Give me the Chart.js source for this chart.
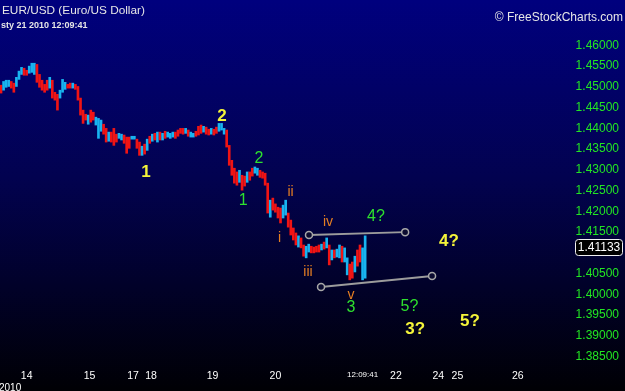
<!DOCTYPE html>
<html>
<head>
<meta charset="utf-8">
<script src="https://cdn.jsdelivr.net/npm/chart.js@4.4.1/dist/chart.umd.min.js"></script>
<style>
html,body{margin:0;padding:0;background:#000;}
canvas{display:block;}
</style>
</head>
<body>
<canvas id="c" width="625" height="391"></canvas>
<script>
// ---- data (hourly bars, EUR/USD) ----
const highs = [1.4504,1.4513,1.4516,1.4516,1.4513,1.4509,1.4523,1.4538,1.4547,1.4545,
1.4540,1.4550,1.4557,1.4557,1.4554,1.4530,1.4516,1.4506,1.4516,1.4523,
1.4516,1.4487,1.4482,1.4492,1.4518,1.4511,1.4506,1.4509,1.4509,1.4506,
1.4501,1.4473,1.4444,1.4434,1.4432,1.4444,1.4439,1.4427,1.4424,1.4420,
1.4410,1.4400,1.4391,1.4391,1.4400,1.4386,1.4388,1.4386,1.4384,1.4379,
1.4379,1.4381,1.4381,1.4374,1.4367,1.4357,1.4362,1.4374,1.4381,1.4386,
1.4388,1.4391,1.4391,1.4388,1.4393,1.4391,1.4388,1.4391,1.4391,1.4396,
1.4400,1.4400,1.4400,1.4396,1.4391,1.4388,1.4393,1.4405,1.4408,1.4405,
1.4403,1.4398,1.4400,1.4398,1.4403,1.4412,1.4412,1.4400,1.4396,1.4359,
1.4323,1.4304,1.4295,1.4299,1.4287,1.4285,1.4295,1.4295,1.4304,1.4307,
1.4304,1.4299,1.4295,1.4292,1.4268,1.4227,1.4232,1.4218,1.4210,1.4208,
1.4215,1.4227,1.4196,1.4179,1.4160,1.4148,1.4141,1.4136,1.4119,1.4116,
1.4121,1.4116,1.4114,1.4116,1.4119,1.4121,1.4126,1.4136,1.4119,1.4107,
1.4107,1.4109,1.4119,1.4116,1.4112,1.4088,1.4073,1.4078,1.4092,1.4107,
1.4119,1.4112,1.4141];
const lows = [1.4485,1.4492,1.4499,1.4501,1.4497,1.4487,1.4501,1.4518,1.4530,1.4528,
1.4528,1.4533,1.4535,1.4530,1.4511,1.4499,1.4492,1.4487,1.4492,1.4497,
1.4473,1.4468,1.4444,1.4473,1.4487,1.4494,1.4497,1.4497,1.4497,1.4494,
1.4468,1.4432,1.4412,1.4420,1.4410,1.4415,1.4420,1.4408,1.4376,1.4393,
1.4386,1.4367,1.4369,1.4367,1.4359,1.4367,1.4376,1.4372,1.4364,1.4340,
1.4352,1.4374,1.4374,1.4352,1.4335,1.4335,1.4338,1.4347,1.4364,1.4369,
1.4372,1.4367,1.4372,1.4372,1.4376,1.4379,1.4376,1.4379,1.4376,1.4381,
1.4388,1.4386,1.4388,1.4381,1.4379,1.4379,1.4381,1.4384,1.4388,1.4391,
1.4386,1.4384,1.4386,1.4384,1.4388,1.4393,1.4396,1.4386,1.4355,1.4311,
1.4287,1.4268,1.4263,1.4270,1.4251,1.4261,1.4270,1.4275,1.4285,1.4292,
1.4287,1.4282,1.4280,1.4263,1.4196,1.4186,1.4203,1.4198,1.4184,1.4172,
1.4184,1.4191,1.4162,1.4143,1.4131,1.4119,1.4114,1.4112,1.4092,1.4088,
1.4102,1.4100,1.4100,1.4102,1.4102,1.4107,1.4109,1.4112,1.4071,1.4083,
1.4088,1.4090,1.4088,1.4078,1.4078,1.4047,1.4035,1.4039,1.4054,1.4068,
1.4078,1.4035,1.4039];
// bar direction: u = up (close > open), d = down
const direction = "duuuddu" + "uuddu" + "uuddddduddduuuddudddddudd" +
  "uuudduddduuddduuddudududududuuudddduduuddduddudduuu" +
  "ddddduddudduuddddudddduu" + "ddddudduuddddudududuuduuddudduu" + "uuudu";
const lastClose = 1.41133;

// y axis tick labels
const yTicks = [1.385,1.39,1.395,1.40,1.405,1.41,1.415,1.42,1.425,1.43,1.435,1.44,1.445,1.45,1.455,1.46];

// x axis: hour slots and their day labels
const tickSlots  = [10, 34.5, 51.5, 58.5, 82.5, 107, 141, 154, 170.5, 178, 201.5];
const tickLabels = ["14","15","17","18","19","20","12:09:41","22","24","25","26"];

// Elliott wave annotations (slot, price)
const waveText  = ["1","2","1","2","ii","i","iv","4?","4?","iii","v","3","5?","3?","5?"];
const waveSlot  = [56.5,86.2,94.4,100.6,112.9,108.6,127.5,146.2,174.7,119.7,136.5,136.5,159.3,161.5,182.9];
const wavePrice = [1.4295,1.4430,1.4225,1.4327,1.4246,1.4136,1.4174,1.4187,1.4129,1.4054,1.3999,1.3967,1.3971,1.3917,1.3934];
const waveKind  = ["Y","Y","G","G","o","o","o","G","Y","o","o","G","G","Y","Y"];

// trend channel lines (slot, price)
const upperLineSlots = [120.1, 157.6];
const upperLinePrice = [1.4143, 1.4150];
const lowerLineSlots = [124.8, 168.1];
const lowerLinePrice = [1.4018, 1.4044];

// ---- build ----
const FONT = "'Liberation Sans', Arial, sans-serif";
const UP = '#18b4f0', DOWN = '#f01414';
const barData = highs.map((h, i) => ({x: i, y: [lows[i], h]}));
const barColors = highs.map((h, i) => direction[i] === 'u' ? UP : DOWN);
const kindColor = {Y: '#f4f43a', G: '#2ee02e', o: '#e57e22'};
const kindFont  = {Y: 'bold 17px ' + FONT, G: '16px ' + FONT, o: '14px ' + FONT};

const bgPlugin = {
  id: 'bg',
  beforeDraw(chart) {
    const ctx = chart.ctx;
    const g = ctx.createLinearGradient(0, 0, 0, chart.height);
    g.addColorStop(0, '#00007e');
    g.addColorStop(0.45, '#020250');
    g.addColorStop(1, '#000004');
    ctx.save();
    ctx.fillStyle = g;
    ctx.fillRect(0, 0, chart.width, chart.height);
    ctx.restore();
  }
};

const textPlugin = {
  id: 'texts',
  afterDatasetsDraw(chart) {
    const ctx = chart.ctx;
    const xs = chart.scales.x, ys = chart.scales.y;
    ctx.save();
    ctx.textAlign = 'center';
    ctx.textBaseline = 'middle';
    waveText.forEach((t, i) => {
      ctx.font = kindFont[waveKind[i]];
      ctx.fillStyle = kindColor[waveKind[i]];
      ctx.fillText(t, xs.getPixelForValue(waveSlot[i]), ys.getPixelForValue(wavePrice[i]));
    });
    ctx.restore();
  },
  afterDraw(chart) {
    const ctx = chart.ctx;
    const ys = chart.scales.y;
    ctx.save();
    ctx.textBaseline = 'alphabetic';
    ctx.fillStyle = '#e6e6e6';
    ctx.textAlign = 'left';
    ctx.font = '11.8px ' + FONT;
    ctx.fillText('EUR/USD (Euro/US Dollar)', 2, 14);
    ctx.font = 'bold 9px ' + FONT;
    ctx.fillText('sty 21 2010 12:09:41', 1, 28);
    ctx.textAlign = 'right';
    ctx.font = '12px ' + FONT;
    ctx.fillText('\u00A9 FreeStockCharts.com', 623, 21);
    ctx.textAlign = 'left';
    ctx.font = '10px ' + FONT;
    ctx.fillStyle = '#ffffff';
    ctx.fillText('2010', -1, 391);
    // current price box
    const y = ys.getPixelForValue(lastClose);
    const bx = 575.5, bw = 47, bh = 16;
    ctx.beginPath();
    ctx.roundRect(bx, Math.round(y - bh / 2) + 0.5, bw, bh, 3);
    ctx.fillStyle = '#000000';
    ctx.fill();
    ctx.strokeStyle = '#f0f0f0';
    ctx.lineWidth = 1;
    ctx.stroke();
    ctx.fillStyle = '#ffffff';
    ctx.font = '12px ' + FONT;
    ctx.textAlign = 'center';
    ctx.textBaseline = 'middle';
    ctx.fillText(lastClose.toFixed(5), bx + bw / 2, Math.round(y) + 1);
    ctx.restore();
  }
};

const lineStyle = {
  type: 'line',
  borderColor: '#9c9c9c',
  borderWidth: 2,
  pointRadius: 3.5,
  pointHoverRadius: 3.5,
  pointBorderColor: '#a8a8a8',
  pointBorderWidth: 1.5,
  pointBackgroundColor: '#0b0b30',
  fill: false,
  tension: 0
};

new Chart(document.getElementById('c'), {
  type: 'bar',
  data: {
    datasets: [
      Object.assign({}, lineStyle, {data: upperLineSlots.map((s, i) => ({x: s, y: upperLinePrice[i]}))}),
      Object.assign({}, lineStyle, {data: lowerLineSlots.map((s, i) => ({x: s, y: lowerLinePrice[i]}))}),
      {
        type: 'bar',
        data: barData,
        backgroundColor: barColors,
        borderWidth: 0,
        barThickness: 2,
        grouped: false,
        order: 5
      }
    ]
  },
  options: {
    responsive: false,
    animation: false,
    events: [],
    layout: {autoPadding: false, padding: {top: 35, right: 6, left: 0, bottom: 0}},
    plugins: {legend: {display: false}, tooltip: {enabled: false}},
    scales: {
      x: {
        type: 'linear',
        offset: false,
        min: -0.4,
        max: 217.6,
        grid: {display: false, drawTicks: false, offset: false},
        border: {display: false},
        afterBuildTicks(scale) { scale.ticks = tickSlots.map(v => ({value: v})); },
        afterFit(scale) { scale.height = 24; scale.paddingLeft = 0; scale.paddingRight = 0; },
        ticks: {
          autoSkip: false,
          maxRotation: 0,
          padding: 3,
          color: '#ffffff',
          font: (ctx) => ({family: FONT, size: ctx.index === 6 ? 8 : 10.5}),
          callback: (v, i) => tickLabels[i]
        }
      },
      y: {
        position: 'right',
        min: 1.3825,
        max: 1.4625,
        grid: {display: false, drawTicks: false},
        border: {display: false},
        afterBuildTicks(scale) { scale.ticks = yTicks.map(v => ({value: v})); },
        afterFit(scale) { scale.width = 60; },
        ticks: {
          crossAlign: 'far',
          padding: 16,
          color: '#22e622',
          font: {family: FONT, size: 12},
          callback: (v) => Math.abs(v - lastClose) < 0.0025 ? '' : Number(v).toFixed(5)
        }
      }
    }
  },
  plugins: [bgPlugin, textPlugin]
});
</script>
</body>
</html>
